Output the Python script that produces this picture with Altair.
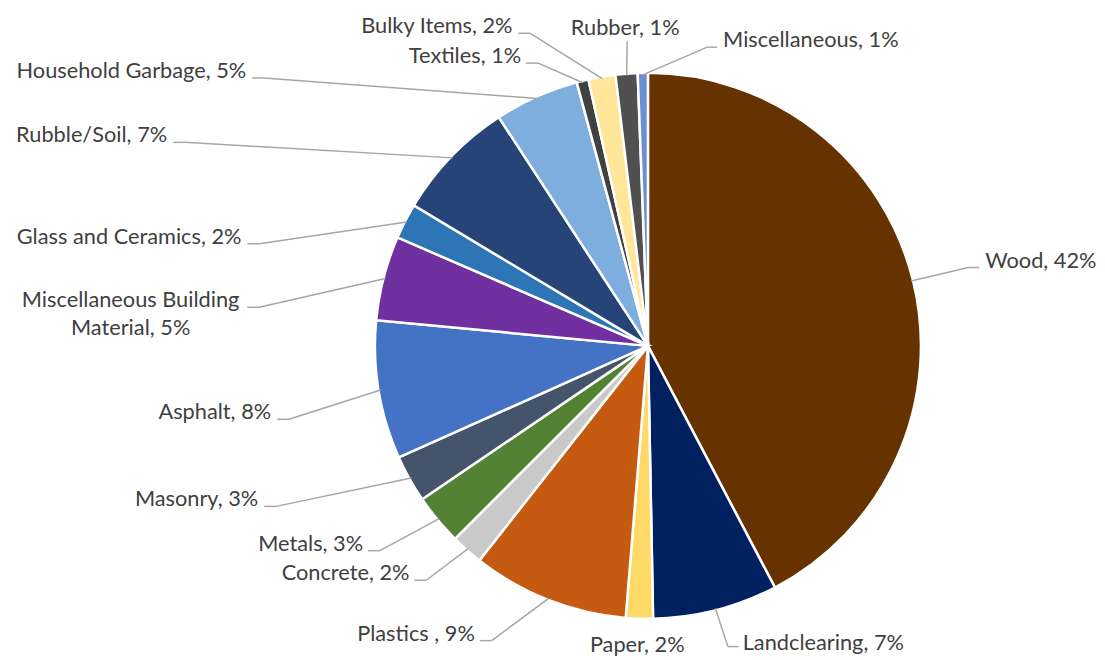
import altair as alt
import pandas as pd

# ---- data (clockwise from 12 o'clock) ----
categories = ["Wood", "Landclearing", "Paper", "Plastics ", "Concrete", "Metals", "Masonry",
              "Asphalt", "Miscellaneous Building Material", "Glass and Ceramics", "Rubble/Soil",
              "Household Garbage", "Textiles", "Bulky Items", "Rubber", "Miscellaneous"]
shares = [42.3, 7.4, 1.6, 9.3, 1.9, 3.0, 2.8, 8.2, 5.0, 2.1, 7.2, 5.0, 0.7, 1.6, 1.3, 0.6]
colors = ["#663300", "#002060", "#FFD966", "#C55A11", "#C9C9C9", "#548235", "#44546A",
          "#4472C4", "#7030A0", "#2E75B6", "#264478", "#7DAEDE", "#404040", "#FFE699",
          "#505050", "#6A8FD3"]

# ---- label layout (polar placement of each label anchor, like Excel's manual label positions) ----
label_angle = [76.7, 163.2, 182.0, 209.7, 224.9, 233.8, 247.3, 258.8, 275.5, 284.3, 293.2,
               304.1, 336.7, 337.5, 356.1, 13.05]
label_radius = [344.2, 317.6, 309.2, 343.1, 334.5, 350.6, 420.5, 382.2, 406.9, 417.9, 522.3,
                483.2, 311.3, 342.1, 308.7, 310.0]
label_align = ["left", "left", "center", "right", "right", "right", "right", "right", "center",
               "right", "right", "right", "right", "right", "center", "left"]
tail = [-11, -11, 0, 12, 12, 12, 12, 12, 12, 12, 12, 12, 12, 12, 0, -10]
leader = [1, 1, 0, 1, 1, 1, 1, 1, 1, 1, 1, 1, 1, 1, 1, 1]
text_dx = [6, 4, 0, -5, -5, -5, -6, -6, -118, -6, -6, -6, -5, -6, -2, 6]
text_dy = [0, 3, 0, 0, 0, 0, 0, 0, 0, 0, 0, 0, 0, 0, -6, 0]

CX, CY, R = 647, 338, 276
FONT = "Lato"
FS = 22
TXT = "#404040"

df = pd.DataFrame({
    "idx": list(range(len(categories))),
    "cat": categories,
    "share": shares,
    "la": label_angle,
    "lr": label_radius,
    "al": label_align,
    "tail": tail,
    "leader": leader,
    "tdx": text_dx,
    "tdy": text_dy,
})

arcs = alt.Chart(df).mark_arc(radius=R, stroke="white", strokeWidth=2.5).encode(
    theta=alt.Theta("share:Q", stack=True),
    order=alt.Order("idx:Q", sort="ascending"),
    color=alt.Color("cat:N", scale=alt.Scale(domain=categories, range=colors), legend=None),
    x=alt.value(CX),
    y=alt.value(CY),
)

base = alt.Chart(df).transform_joinaggregate(
    total="sum(share)"
).transform_window(
    cum="sum(share)", sort=[alt.SortField("idx", order="ascending")], frame=[None, 0]
).transform_calculate(
    mid="2*PI*(datum.cum - datum.share/2)/datum.total",
    sx=f"{CX} + {R - 2}*sin(datum.mid)",
    sy=f"{CY} - {R - 2}*cos(datum.mid)",
    tx=f"{CX} + datum.lr*sin(datum.la*PI/180)",
    ty=f"{CY} - datum.lr*cos(datum.la*PI/180)",
    ex="datum.tx + datum.tail",
    lx="datum.tx + datum.tdx",
    ly="datum.ty + datum.tdy",
    label="replace(datum.cat, 'Building ', 'Building\\n') + ', ' + format(datum.share/datum.total, '.0%')",
)

lead1 = base.transform_filter("datum.leader == 1").mark_rule(color="#A6A6A6", strokeWidth=1.5).encode(
    x=alt.X("sx:Q", scale=None, axis=None),
    y=alt.Y("sy:Q", scale=None, axis=None),
    x2="ex:Q",
    y2="ty:Q",
)
lead2 = base.transform_filter("datum.leader == 1").mark_rule(color="#A6A6A6", strokeWidth=1.5).encode(
    x=alt.X("ex:Q", scale=None, axis=None),
    y=alt.Y("ty:Q", scale=None, axis=None),
    x2="tx:Q",
    y2="ty:Q",
)


def text_layer(al):
    return base.transform_filter(f"datum.al == '{al}'").mark_text(
        align=al, baseline="alphabetic", font=FONT, fontSize=FS, color=TXT,
        lineBreak="\n", lineHeight=28,
    ).encode(
        x=alt.X("lx:Q", scale=None, axis=None),
        y=alt.Y("ly:Q", scale=None, axis=None),
        text="label:N",
    )


chart = alt.layer(
    arcs, lead1, lead2, text_layer("left"), text_layer("right"), text_layer("center")
).properties(
    width=1089, height=644, padding=0
).configure_view(stroke=None)

chart.save("out.html", embed_options={"renderer": "svg", "actions": False})
